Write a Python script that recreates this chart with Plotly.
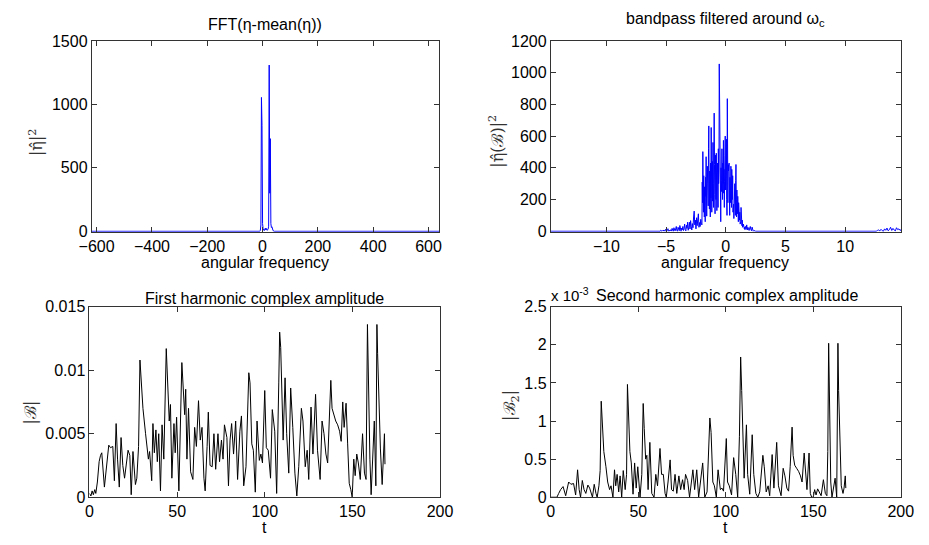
import numpy as np
import plotly.graph_objects as go

W, H = 929, 545

# ---------------- data ----------------
# Top-left: full FFT power spectrum |eta_hat|^2 vs angular frequency
fft_freq = [-617.6, -10, -8, -6, -4, -2, 0, 2, 6, 10, 12, 14, 16, 20, 22, 24, 26, 28, 30, 32, 34, 38, 42, 638.7]
fft_pow = [0, 0, 8, 50, 1055, 835, 60, 20, 5, 25, 10, 22, 8, 15, 40, 1310, 300, 730, 60, 30, 35, 5, 0, 0]

# Top-right: bandpass spectrum around omega_c
bp_left_start, bp_left_step = -5.6, 0.05
bp_left_vals = [0, 3, 0, 6, 2, 0, 4, 1, 8, 2,
                0, 12, 3, 0, 5, 16, 2, 0, 7, 3,
                10, 1, 18, 4, 0, 22, 6, 2, 14, 30,
                5, 0, 25, 8, 3, 36, 12, 0, 20, 9,
                30, 4, 15, 45, 10, 2, 38, 18, 57, 6,
                25, 57, 14, 67, 30, 8, 48, 22, 90, 127,
                40, 70, 15, 85, 35, 60, 110, 25,
                55, 30, 75, 45]
bp_mid_start, bp_mid_step = -2.0, 0.025
bp_mid_vals = [40, 310, 180, 502, 260, 120, 350, 200, 90, 280,
               150, 60, 340, 220, 470, 180, 95, 300, 410, 250,
               410, 160, 520, 664, 300, 140, 380, 260, 90, 430,
               210, 654, 350, 120, 280, 440, 190, 560, 300, 150,
               380, 745, 420, 230, 110, 480, 330, 200, 492, 260,
               130, 360, 430, 280, 150, 520, 300, 380, 1055, 700,
               816, 330, 120, 60, 400, 250, 320, 520, 350, 200,
               430, 300, 573, 240, 390, 150, 315, 480, 600, 260,
               450, 320, 580, 200, 100, 836, 300, 180, 420, 380,
               260, 430, 210, 100, 340, 290, 180, 410, 260, 150,
               390, 300, 200, 350, 120, 260, 170, 80, 230, 130,
               300, 190, 100, 320, 421, 200, 90, 260, 160, 110,
               220, 130, 60, 180, 90, 150, 70, 120, 45, 80,
               60, 150, 40, 90, 35, 70, 25, 60, 30, 45,
               20, 35, 15, 25, 10]
bp_right_start, bp_right_step = 1.65, 0.05
bp_right_vals = [30, 12, 40, 8, 25, 15, 5, 20, 30, 10, 3, 26, 8, 0, 4, 0, 2, 0]
bp_far_start, bp_far_step = 12.4, 0.1
bp_far_vals = [0, 3, 0, 5, 8, 2, 12, 4, 0, 15, 6, 20, 3, 10, 25, 5, 18, 8, 2, 22, 10, 15, 5, 12]
bp_xmin, bp_xmax = -14.66, 14.71

# Bottom-left: |B| first harmonic amplitude vs t
t1 = [0, 0.8, 1.5, 2.2, 3, 3.6, 4.5, 5.5, 6.3, 7, 8.5, 9.5, 11, 12, 13.3, 14.2, 15.2, 16, 17, 18,
      19, 20, 21, 22, 23, 23.8, 24.8, 25.5, 26.2, 27, 28, 28.8, 29.5, 30.5, 32, 33.6, 34.3, 35.5, 36.2, 37,
      37.9, 38.7, 39.5, 40.5, 41.4, 42.4, 43.8, 44.7, 45.5, 46.2, 47, 48.2, 48.9, 49.7, 51, 52.7, 53.4, 54.3, 54.9, 55.6,
      56.5, 57.7, 59, 60, 61, 62.2, 63.2, 64.2, 65.3, 66, 67.1, 67.8, 68.8, 70, 71, 72, 73.3, 74.2, 75.3, 76.2,
      77, 78.4, 79.3, 80.2, 81.1, 82.2, 83.4, 84.5, 85.8, 86.7, 88, 89.3, 90.9, 91.6, 92.6, 93.5, 94.6, 95.6, 96.9, 97.8,
      98.7, 100, 100.9, 102, 103.3, 104.3, 105.7, 106.8, 108, 108.5, 109.1, 109.8, 110.5, 111.6, 112.5, 113.7, 114.8, 116, 117.2, 118.3,
      119.4, 120.9, 121.8, 123.1, 124.2, 125.1, 126.4, 127.5, 129, 130.1, 131.6, 132.7, 133.8, 134.9, 135.9, 136.8, 137.7, 138.4, 139.4, 140.5,
      141.6, 142.7, 143.6, 144.5, 145.3, 146.4, 147.3, 148.2, 149.1, 149.9, 150.8, 151.6, 152.5, 153.4, 154.5, 155.8, 156.9, 157.8, 158.6, 159.3,
      160, 160.7, 161.6, 162.5, 163.4, 164, 164.4, 165.3, 166, 167, 167.6, 168.3, 168.6]
B1 = [0.0003, 0.0001, 0.0005, 0.0002, 0.0006, 0.0003, 0.0012, 0.0028, 0.0033, 0.0035, 0.0008, 0.002, 0.0041, 0.0039, 0.004, 0.0013, 0.0058, 0.003, 0.0008, 0.0047,
      0.0025, 0.0015, 0.0026, 0.0037, 0.0033, 0.0002, 0.0036, 0.0025, 0.001, 0.0015, 0.004, 0.0108, 0.009, 0.007, 0.005, 0.003, 0.0036, 0.0013, 0.0058, 0.0035,
      0.0053, 0.0028, 0.005, 0.0005, 0.0057, 0.003, 0.0117, 0.009, 0.006, 0.0073, 0.0015, 0.0058, 0.0035, 0.0063, 0.0005, 0.0106, 0.009, 0.0065, 0.0085, 0.003,
      0.007, 0.002, 0.0014, 0.0055, 0.004, 0.0076, 0.0045, 0.0055, 0.0015, 0.0005, 0.004, 0.0067, 0.0025, 0.0024, 0.005, 0.0022, 0.005, 0.0028, 0.0045, 0.003,
      0.0057, 0.0047, 0.0009, 0.0045, 0.0058, 0.0034, 0.006, 0.0014, 0.0052, 0.0064, 0.0009, 0.0024, 0.0098, 0.009, 0.0042, 0.0037, 0.0004, 0.006, 0.0029, 0.0034,
      0.0027, 0.0084, 0.0039, 0.0037, 0.0015, 0.0069, 0.0052, 0.0003, 0.009, 0.013, 0.0118, 0.009, 0.0045, 0.0094, 0.005, 0.0019, 0.0086, 0.0055, 0.0019, 0.0001,
      0.0024, 0.007, 0.006, 0.0024, 0.0037, 0.0014, 0.0071, 0.0034, 0.0081, 0.0037, 0.0014, 0.006, 0.005, 0.0034, 0.0027, 0.006, 0.0092, 0.007, 0.0064, 0.006,
      0.0057, 0.0052, 0.0044, 0.0075, 0.0055, 0.0074, 0.0042, 0.0011, 0.0006, 0.0, 0.003, 0.0017, 0.0034, 0.0027, 0.0014, 0.005, 0.0019, 0.0014, 0.0136, 0.0075,
      0.003, 0.0002, 0.004, 0.006, 0.0009, 0.0136, 0.0113, 0.006, 0.0038, 0.001, 0.0035, 0.005, 0.0026]

# Bottom-right: |B2| second harmonic amplitude (units of 1e-3) vs t
t2 = [0, 3.5, 4.5, 5.6, 7, 8.5, 10.2, 11.5, 13, 14.2, 15.3, 16.2, 17, 18, 19, 20, 21.2, 22.2, 23.8, 24.8,
      25.8, 26.5, 27.5, 28.2, 28.8, 29.4, 30.3, 31.5, 32.5, 33.6, 34.4, 35.5, 36.4, 37.1, 37.9, 38.8, 39.6, 40.5, 41.4, 42.5,
      43.3, 43.8, 44.4, 45.2, 46, 47, 47.9, 48.8, 49.7, 51, 52, 52.8, 53.4, 54.2, 54.9, 55.6, 56.6, 57.7, 59, 60,
      61, 62.4, 63.3, 64.3, 65.3, 66, 67, 68.2, 69, 70, 71, 72, 73.2, 74.2, 75.3, 76.2, 77, 78.2, 79.3, 80.5,
      81.2, 82.2, 83.4, 84.5, 85.8, 86.8, 88, 89.3, 90.9, 91.6, 92.6, 93.5, 94.6, 95.6, 96.9, 97.8, 98.7, 100.3, 101, 102,
      103.3, 104.5, 105.7, 106.8, 107.8, 108.5, 109.1, 109.8, 110.5, 111.8, 112.5, 113.7, 115.1, 116, 117.2, 118.3, 119.4, 121.2, 122, 123.1,
      124.2, 125.1, 126.5, 127.5, 129.1, 130.1, 131.6, 132.8, 133.8, 134.9, 135.9, 136.8, 137.9, 138.5, 139.4, 140.5, 141.6, 142.7, 143.6, 144.8,
      145.5, 146.4, 147.6, 148.3, 149.1, 150, 150.8, 151.6, 152.5, 153.4, 154.5, 155.8, 156.9, 157.8, 158.3, 158.8, 159.3, 160, 160.7, 161.6,
      162.5, 163.4, 163.8, 164.1, 164.5, 165.3, 166, 167, 167.6, 168.3, 168.6]
B2 = [0, 0.0, 0.05, 0.1, 0.14, 0.02, 0.2, 0.17, 0.18, 0.03, 0.36, 0.1, 0.0, 0.22, 0.1, 0.05, 0.16, 0.12, 0.0, 0.17,
      0.05, 0.0, 0.15, 0.35, 1.26, 1.0, 0.6, 0.4, 0.2, 0.1, 0.15, 0.0, 0.36, 0.15, 0.3, 0.07, 0.28, 0.0, 0.35, 0.1,
      0.3, 1.48, 1.1, 0.6, 0.45, 0.04, 0.45, 0.12, 0.4, 0.0, 0.3, 1.23, 0.9, 0.5, 0.55, 0.1, 0.72, 0.05, 0.0, 0.3,
      0.15, 0.64, 0.3, 0.3, 0.05, 0.0, 0.2, 0.49, 0.1, 0.08, 0.3, 0.05, 0.28, 0.1, 0.23, 0.1, 0.3, 0.22, 0.0, 0.22,
      0.36, 0.1, 0.36, 0.0, 0.3, 0.45, 0.0, 0.07, 1.04, 0.85, 0.2, 0.15, 0.0, 0.36, 0.1, 0.12, 0.08, 0.77, 0.2, 0.15,
      0.03, 0.52, 0.3, 0.0, 0.8, 1.84, 1.4, 0.8, 0.25, 0.95, 0.3, 0.04, 0.82, 0.3, 0.05, 0.0, 0.07, 0.55, 0.4, 0.07,
      0.15, 0.02, 0.56, 0.12, 0.72, 0.15, 0.02, 0.38, 0.28, 0.12, 0.08, 0.4, 0.92, 0.55, 0.42, 0.38, 0.34, 0.28, 0.2, 0.58,
      0.3, 0.1, 0.58, 0.05, 0.0, 0.0, 0.1, 0.03, 0.11, 0.07, 0.02, 0.23, 0.05, 0.02, 0.6, 2.02, 0.9, 0.2, 0.0, 0.15,
      0.25, 0.0, 1.0, 2.02, 1.4, 0.5, 0.15, 0.05, 0.12, 0.28, 0.12]

# tick labels
tl_x1 = [-600, -400, -200, 0, 200, 400, 600]
tl_y1 = [0, 500, 1000, 1500]
tl_x2 = [-10, -5, 0, 5, 10]
tl_y2 = [0, 200, 400, 600, 800, 1000, 1200]
tl_t = [0, 50, 100, 150, 200]
tl_y3 = [0, 0.005, 0.01, 0.015]
tl_y3_txt = ["0", "0.005", "0.01", "0.015"]
tl_y4 = [0, 0.5, 1, 1.5, 2, 2.5]
tl_y4_txt = ["0", "0.5", "1", "1.5", "2", "2.5"]

# ---------------- build bandpass series ----------------
bx_left = bp_left_start + bp_left_step * np.arange(len(bp_left_vals))
bx_mid = bp_mid_start + bp_mid_step * np.arange(len(bp_mid_vals))
bx_right = bp_right_start + bp_right_step * np.arange(len(bp_right_vals))
bx_far = bp_far_start + bp_far_step * np.arange(len(bp_far_vals))
bp_x = np.concatenate([[bp_xmin], bx_left, bx_mid, bx_right, bx_far, [bp_xmax]])
bp_y = np.concatenate([[0], bp_left_vals, bp_mid_vals, bp_right_vals, bp_far_vals, [0]])

# ---------------- figure ----------------
def px(x):
    return x / W

def py(y):
    return 1 - y / H

FONT = "Liberation Sans, Arial, Helvetica, sans-serif"
SERIF = "DejaVu Serif, Liberation Serif, serif"
AXC = "#333333"

fig = go.Figure()
blue = "#0000FF"
fig.add_trace(go.Scatter(x=fft_freq, y=fft_pow, mode="lines", line=dict(color=blue, width=1),
                         xaxis="x", yaxis="y", showlegend=False))
fig.add_trace(go.Scatter(x=bp_x, y=bp_y, mode="lines", line=dict(color=blue, width=1),
                         xaxis="x2", yaxis="y2", showlegend=False))
fig.add_trace(go.Scatter(x=t1, y=B1, mode="lines", line=dict(color="black", width=1),
                         xaxis="x3", yaxis="y3", showlegend=False))
fig.add_trace(go.Scatter(x=t2, y=B2, mode="lines", line=dict(color="black", width=1),
                         xaxis="x4", yaxis="y4", showlegend=False))

def ax(domain, rng, tickvals, ticktext=None, anchor=None):
    d = dict(domain=domain, range=rng, tickvals=tickvals, showgrid=False, zeroline=False,
             showline=True, linecolor=AXC, linewidth=1, mirror="ticks", ticks="inside",
             ticklen=5, tickcolor=AXC, tickwidth=1,
             tickfont=dict(family=FONT, size=16, color="black"), anchor=anchor)
    if ticktext is not None:
        d["ticktext"] = ticktext
        d["tickmode"] = "array"
    return d

top_y = [py(231), py(34)]
bot_y = [py(505), py(308.3)]

fig.update_layout(
    width=W, height=H, margin=dict(l=0, r=0, t=0, b=0),
    paper_bgcolor="white", plot_bgcolor="white",
    xaxis=ax([px(81), px(438.5)], [-617.6, 638.7], tl_x1, None, "y"),
    yaxis=ax(top_y, [-4, 1500], tl_y1, None, "x"),
    xaxis2=ax([px(553.3), px(914)], [bp_xmin, bp_xmax], tl_x2, None, "y2"),
    yaxis2=ax(top_y, [-3.5, 1200], tl_y2, None, "x2"),
    xaxis3=ax([px(78.7), px(439.3)], [0, 200], tl_t, None, "y3"),
    yaxis3=ax(bot_y, [0, 0.015], tl_y3, tl_y3_txt, "x3"),
    xaxis4=ax([px(553.3), px(913.3)], [0, 200], tl_t, None, "y4"),
    yaxis4=ax(bot_y, [0, 2.5], tl_y4, tl_y4_txt, "x4"),
)

def ann(text, x, y, size=16, family=FONT, angle=0, color="black", xanchor="center"):
    fig.add_annotation(text=text, x=px(x), y=py(y), xref="paper", yref="paper",
                       showarrow=False, textangle=angle, xanchor=xanchor, yanchor="middle",
                       font=dict(family=family, size=size, color=color))

# titles
ann("FFT(η-mean(η))", 259.5, 17)
ann("bandpass filtered around ω<sub>c</sub>", 733, 12)
ann("First harmonic complex amplitude", 259, 300)
ann("Second harmonic complex amplitude", 735, 297)
# x labels
ann("angular frequency", 259.5, 263)
ann("angular frequency", 733, 263)
ann("t", 259, 536)
ann("t", 733, 536)
# y labels
ann("|η\u0302|<sup>2</sup>", 24, 138, size=16, family=SERIF, angle=-90, color="#333")
ann("|η\u0302(ℬ)|<sup>2</sup>", 498, 138, size=16, family=SERIF, angle=-90, color="#333")
ann("|ℬ|", 18, 417, size=16, family=SERIF, angle=-90, color="#333")
ann("|ℬ<sub>2</sub>|", 512, 410, size=16, family=SERIF, angle=-90, color="#333")
# exponent
ann("x 10<sup>-3</sup>", 551, 296, size=15, xanchor="left")

fig.write_html("out.html")
